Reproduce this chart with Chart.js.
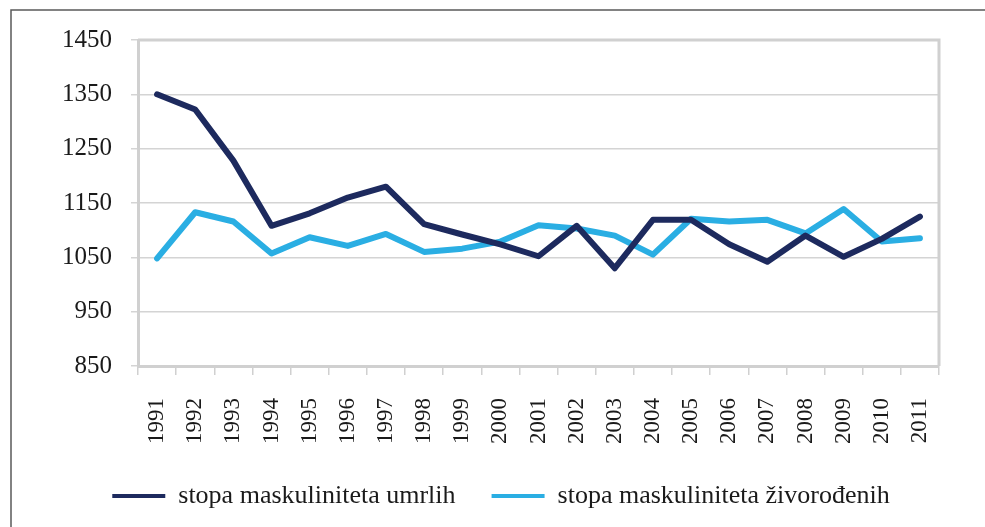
<!DOCTYPE html>
<html>
<head>
<meta charset="utf-8">
<script src="https://cdn.jsdelivr.net/npm/chart.js@4"></script>
<style>
  html, body { margin: 0; padding: 0; background: #fff; }
  #wrap { position: relative; width: 985px; height: 527px; }
</style>
</head>
<body>
<div id="wrap"><canvas id="chart"></canvas></div>
<script>
// Years on the x axis
const years = ['1991', '1992', '1993', '1994', '1995', '1996', '1997', '1998', '1999', '2000',
    '2001', '2002', '2003', '2004', '2005', '2006', '2007', '2008', '2009', '2010', '2011'];

// stopa maskuliniteta umrlih
const umrlih = [1350, 1322, 1228, 1108, 1131, 1160, 1180, 1111, 1092, 1074,
    1052, 1108, 1030, 1119, 1119, 1074, 1042, 1090, 1051, 1084, 1125];

// stopa maskuliniteta živorođenih
const zivorodenih = [1048, 1133, 1116, 1057, 1087, 1071, 1093, 1060, 1066, 1079,
    1109, 1103, 1090, 1055, 1121, 1116, 1119, 1094, 1139, 1079, 1085];

const yMin = 850;
const yMax = 1450;
const yStep = 100;

// outer frame and plot border, legend nudge
const framePlugin = {
    id: 'frame',
    afterLayout(chart) {
        // legend sits a bit right of centre in the original
        chart.legend.left += 10;
        chart.legend.right += 10;
    },
    beforeDraw(chart) {
        const ctx = chart.ctx;
        ctx.save();
        ctx.strokeStyle = '#5a5a5a';
        ctx.lineWidth = 1.5;
        ctx.beginPath();
        ctx.moveTo(11, 527);
        ctx.lineTo(11, 10);
        ctx.lineTo(985, 10);
        ctx.stroke();
        ctx.restore();
    },
    afterDatasetsDraw(chart) {
        const a = chart.chartArea;
        const ctx = chart.ctx;
        ctx.save();
        ctx.strokeStyle = '#d0d0d0';
        ctx.lineWidth = 3;
        ctx.beginPath();
        ctx.moveTo(a.left, a.top);
        ctx.lineTo(a.right, a.top);
        ctx.lineTo(a.right, a.bottom);
        ctx.stroke();
        ctx.restore();
    }
};

document.addEventListener('DOMContentLoaded', function() {
    Chart.defaults.font.family = "'Liberation Serif', 'Times New Roman', serif";
    Chart.defaults.color = '#1a1a1a';

    const ctx = document.getElementById('chart').getContext('2d');
    new Chart(ctx, {
        type: 'line',
        data: {
            labels: years,
            datasets: [{
                label: 'stopa maskuliniteta umrlih',
                data: umrlih,
                borderColor: '#1d2a5e',
                backgroundColor: '#1d2a5e',
                borderWidth: 6,
                pointRadius: 0,
                tension: 0,
                borderCapStyle: 'round',
                borderJoinStyle: 'round'
            }, {
                label: 'stopa maskuliniteta živorođenih',
                data: zivorodenih,
                borderColor: '#2aaee3',
                backgroundColor: '#2aaee3',
                borderWidth: 6,
                pointRadius: 0,
                tension: 0,
                borderCapStyle: 'round',
                borderJoinStyle: 'round'
            }]
        },
        options: {
            responsive: true,
            maintainAspectRatio: false,
            animation: false,
            layout: {
                padding: { left: 43, right: 46, top: 40, bottom: 8 }
            },
            plugins: {
                legend: {
                    position: 'bottom',
                    labels: {
                        boxWidth: 53,
                        boxHeight: 4,
                        padding: 36,
                        font: { size: 26 },
                        generateLabels(chart) {
                            const items = Chart.defaults.plugins.legend.labels.generateLabels(chart);
                            items.forEach(it => { it.lineWidth = 0; });
                            return items;
                        }
                    }
                },
                tooltip: { enabled: false }
            },
            scales: {
                x: {
                    offset: true,
                    afterFit(scale) {
                        scale.height -= 20;
                    },
                    grid: {
                        offset: true,
                        drawOnChartArea: false,
                        tickLength: 9,
                        color: '#d0d0d0',
                        lineWidth: 1.5
                    },
                    border: { color: '#d0d0d0', width: 3 },
                    ticks: {
                        minRotation: 90,
                        maxRotation: 90,
                        padding: 23,
                        font: { size: 23 }
                    }
                },
                y: {
                    min: yMin,
                    max: yMax,
                    ticks: {
                        stepSize: yStep,
                        padding: 19,
                        font: { size: 25 },
                        callback: v => String(v)
                    },
                    grid: {
                        color: '#d4d4d4',
                        lineWidth: 1.5,
                        tickLength: 7
                    },
                    border: { color: '#d0d0d0', width: 3 }
                }
            }
        },
        plugins: [framePlugin]
    });
});
</script>
</body>
</html>
